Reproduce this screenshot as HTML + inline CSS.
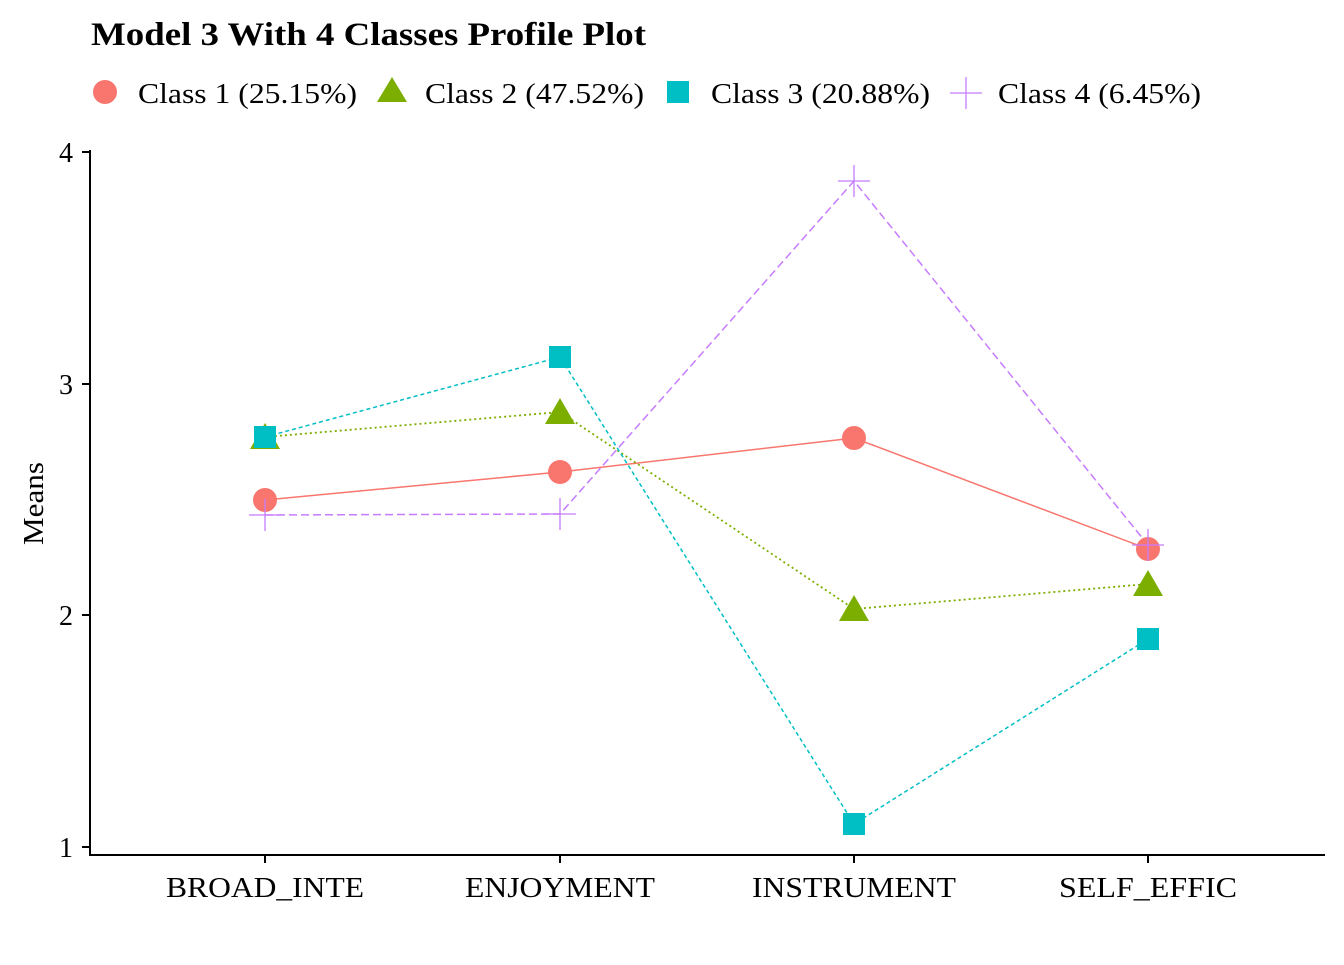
<!DOCTYPE html>
<html><head><meta charset="utf-8"><style>
html,body{margin:0;padding:0;background:#fff;}
svg text{font-family:"Liberation Serif",serif;fill:#000;}
</style></head><body>
<svg width="1344" height="960" viewBox="0 0 1344 960" xmlns="http://www.w3.org/2000/svg">
<rect width="1344" height="960" fill="#fff"/>
<text x="91" y="45" font-size="33" font-weight="bold" textLength="555" lengthAdjust="spacingAndGlyphs">Model 3 With 4 Classes Profile Plot</text>
<!-- legend -->
<circle cx="105" cy="92" r="12" fill="#F8766D"/>
<text x="138" y="103" font-size="29" textLength="219" lengthAdjust="spacingAndGlyphs">Class 1 (25.15%)</text>
<polygon points="392,77 407,102 377,102" fill="#7CAE00"/>
<text x="425" y="103" font-size="29" textLength="219" lengthAdjust="spacingAndGlyphs">Class 2 (47.52%)</text>
<rect x="667" y="81" width="22" height="22" fill="#00BFC4"/>
<text x="711" y="103" font-size="29" textLength="219" lengthAdjust="spacingAndGlyphs">Class 3 (20.88%)</text>
<path d="M950,93 H982 M966,77 V109" stroke="#C77CFF" stroke-width="1.3"/>
<text x="998" y="103" font-size="29" textLength="203" lengthAdjust="spacingAndGlyphs">Class 4 (6.45%)</text>
<!-- axes -->
<path d="M90,150 V855 H1325" stroke="#000" stroke-width="2" fill="none"/>
<g stroke="#000" stroke-width="2">
<path d="M82,152 H90 M82,384 H90 M82,615 H90 M82,847 H90"/>
<path d="M265,855 V863 M560,855 V863 M854,855 V863 M1148,855 V863"/>
</g>
<g font-size="28" text-anchor="end">
<text x="73" y="162">4</text><text x="73" y="394">3</text><text x="73" y="625">2</text><text x="73" y="857">1</text>
</g>
<g font-size="28">
<text x="166" y="897" textLength="198" lengthAdjust="spacingAndGlyphs">BROAD_INTE</text>
<text x="465" y="897" textLength="190" lengthAdjust="spacingAndGlyphs">ENJOYMENT</text>
<text x="752" y="897" textLength="204" lengthAdjust="spacingAndGlyphs">INSTRUMENT</text>
<text x="1059" y="897" textLength="178" lengthAdjust="spacingAndGlyphs">SELF_EFFIC</text>
</g>
<text transform="translate(43,545) rotate(-90)" font-size="28" textLength="83" lengthAdjust="spacingAndGlyphs">Means</text>
<!-- series -->
<polyline points="265,500 560,472 854,438 1148,549" fill="none" stroke="#F8766D" stroke-width="1.5"/>
<polyline points="265,437 560,412 854,609 1148,584" fill="none" stroke="#7CAE00" stroke-width="1.8" stroke-dasharray="2,3"/>
<polyline points="265,437 560,357 854,824 1148,639" fill="none" stroke="#00BFC4" stroke-width="1.5" stroke-dasharray="4,3"/>
<polyline points="265,515 560,514 854,181 1148,545" fill="none" stroke="#C77CFF" stroke-width="1.5" stroke-dasharray="8,4"/>
<g fill="#F8766D"><circle cx="265" cy="500" r="12"/><circle cx="560" cy="472" r="12"/><circle cx="854" cy="438" r="12"/><circle cx="1148" cy="549" r="12"/></g>
<g fill="#7CAE00">
<polygon points="265,423 280,449 250,449"/><polygon points="560,398 575,424 545,424"/><polygon points="854,595 869,621 839,621"/><polygon points="1148,570 1163,596 1133,596"/>
</g>
<g fill="#00BFC4">
<rect x="254" y="426" width="22" height="22"/><rect x="549" y="346" width="22" height="22"/><rect x="843" y="813" width="22" height="22"/><rect x="1137" y="628" width="22" height="22"/>
</g>
<g stroke="#C77CFF" stroke-width="1.3" fill="none">
<path d="M249,515 H281 M265,499 V531"/><path d="M544,514 H576 M560,498 V530"/><path d="M838,181 H870 M854,165 V197"/><path d="M1132,545 H1164 M1148,529 V561"/>
</g>
</svg>
</body></html>
